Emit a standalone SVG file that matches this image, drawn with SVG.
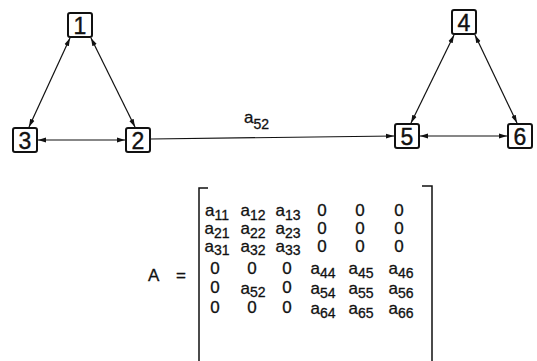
<svg xmlns="http://www.w3.org/2000/svg" width="537" height="361" viewBox="0 0 537 361">
  <defs>
    <marker id="arr" viewBox="0 0 8 6" refX="8" refY="3" markerWidth="8" markerHeight="6" markerUnits="userSpaceOnUse" orient="auto-start-reverse">
      <path d="M0,0.6 L8,3 L0,5.4 Z" fill="#111"/>
    </marker>
    <style>
      .box { fill: #fff; stroke: #111; stroke-width: 2; }
      .num { font-family: "Liberation Sans", Arial, sans-serif; font-size: 23px; fill: #111; stroke: #111; stroke-width: 0.4; text-anchor: middle; }
      .edge { stroke: #111; stroke-width: 1.2; fill: none; }
      .lbl { font-family: "Liberation Sans", Arial, sans-serif; font-size: 17px; fill: #111; stroke: #111; stroke-width: 0.3; }
      .m { font-family: "Liberation Sans", Arial, sans-serif; font-size: 17px; fill: #111; stroke: #111; stroke-width: 0.3; text-anchor: middle; }
      .z { font-family: "Liberation Sans", Arial, sans-serif; font-size: 17px; fill: #111; stroke: #111; stroke-width: 0.3; text-anchor: middle; }
      .sub { font-size: 14px; }
      .brk { stroke: #111; stroke-width: 1.5; fill: none; }
    </style>
  </defs>
  <rect width="537" height="361" fill="#fff"/>

  <!-- connectors -->
  <g id="connectors">
    <line class="edge" x1="70" y1="38" x2="29" y2="127" marker-start="url(#arr)" marker-end="url(#arr)"/>
    <line class="edge" x1="91" y1="38" x2="135" y2="127" marker-start="url(#arr)" marker-end="url(#arr)"/>
    <line class="edge" x1="38" y1="140" x2="125" y2="140" marker-start="url(#arr)" marker-end="url(#arr)"/>
    <line class="edge" x1="151" y1="139" x2="394" y2="136" marker-end="url(#arr)"/>
    <line class="edge" x1="454" y1="35" x2="411" y2="123" marker-start="url(#arr)" marker-end="url(#arr)"/>
    <line class="edge" x1="475" y1="35" x2="517" y2="123" marker-start="url(#arr)" marker-end="url(#arr)"/>
    <line class="edge" x1="420" y1="136" x2="507" y2="136" marker-start="url(#arr)" marker-end="url(#arr)"/>
    <text class="lbl" x="244" y="123">a<tspan class="sub" dy="6">52</tspan></text>
  </g>

  <!-- nodes -->
  <g id="n1"><rect class="box" x="68" y="13" width="24" height="24" rx="2"/><text class="num" x="80" y="33.5">1</text></g>
  <g id="n2"><rect class="box" x="126" y="128" width="24" height="24" rx="2"/><text class="num" x="138" y="148.5">2</text></g>
  <g id="n3"><rect class="box" x="13" y="128" width="24" height="24" rx="2"/><text class="num" x="25" y="148.5">3</text></g>
  <g id="n4"><rect class="box" x="452" y="10" width="24" height="24" rx="2"/><text class="num" x="464" y="30.5">4</text></g>
  <g id="n5"><rect class="box" x="395" y="124" width="24" height="24" rx="2"/><text class="num" x="407" y="144.5">5</text></g>
  <g id="n6"><rect class="box" x="508" y="124" width="24" height="24" rx="2"/><text class="num" x="520" y="144.5">6</text></g>

  <!-- matrix A -->
  <g id="matrix">
    <text class="lbl" x="148" y="281" font-size="18">A</text>
    <text class="lbl" x="176" y="281" font-size="18">=</text>
    <path class="brk" d="M208,188 H199 V361"/>
    <path class="brk" d="M422,186 H432 V361"/>

    <!-- row 1 -->
    <text class="m" x="217" y="216">a<tspan class="sub" dy="4">11</tspan></text>
    <text class="m" x="253" y="216">a<tspan class="sub" dy="4">12</tspan></text>
    <text class="m" x="288" y="216">a<tspan class="sub" dy="4">13</tspan></text>
    <text class="z" x="322" y="216">0</text>
    <text class="z" x="360" y="216">0</text>
    <text class="z" x="399" y="216">0</text>
    <!-- row 2 -->
    <text class="m" x="217" y="234">a<tspan class="sub" dy="4">21</tspan></text>
    <text class="m" x="253" y="234">a<tspan class="sub" dy="4">22</tspan></text>
    <text class="m" x="288" y="234">a<tspan class="sub" dy="4">23</tspan></text>
    <text class="z" x="322" y="234">0</text>
    <text class="z" x="360" y="234">0</text>
    <text class="z" x="399" y="234">0</text>
    <!-- row 3 -->
    <text class="m" x="217" y="252">a<tspan class="sub" dy="3">31</tspan></text>
    <text class="m" x="253" y="252">a<tspan class="sub" dy="3">32</tspan></text>
    <text class="m" x="288" y="252">a<tspan class="sub" dy="3">33</tspan></text>
    <text class="z" x="322" y="252">0</text>
    <text class="z" x="360" y="252">0</text>
    <text class="z" x="399" y="252">0</text>
    <!-- row 4 -->
    <text class="z" x="215" y="274">0</text>
    <text class="z" x="252" y="274">0</text>
    <text class="z" x="287" y="274">0</text>
    <text class="m" x="323" y="274">a<tspan class="sub" dy="4">44</tspan></text>
    <text class="m" x="361" y="274">a<tspan class="sub" dy="4">45</tspan></text>
    <text class="m" x="401" y="274">a<tspan class="sub" dy="4">46</tspan></text>
    <!-- row 5 -->
    <text class="z" x="215" y="293">0</text>
    <text class="m" x="253" y="294">a<tspan class="sub" dy="3">52</tspan></text>
    <text class="z" x="287" y="293">0</text>
    <text class="m" x="323" y="294">a<tspan class="sub" dy="4">54</tspan></text>
    <text class="m" x="361" y="294">a<tspan class="sub" dy="4">55</tspan></text>
    <text class="m" x="401" y="294">a<tspan class="sub" dy="4">56</tspan></text>
    <!-- row 6 -->
    <text class="z" x="215" y="313">0</text>
    <text class="z" x="252" y="313">0</text>
    <text class="z" x="287" y="313">0</text>
    <text class="m" x="323" y="314">a<tspan class="sub" dy="4">64</tspan></text>
    <text class="m" x="361" y="314">a<tspan class="sub" dy="4">65</tspan></text>
    <text class="m" x="401" y="314">a<tspan class="sub" dy="4">66</tspan></text>
  </g>
</svg>
